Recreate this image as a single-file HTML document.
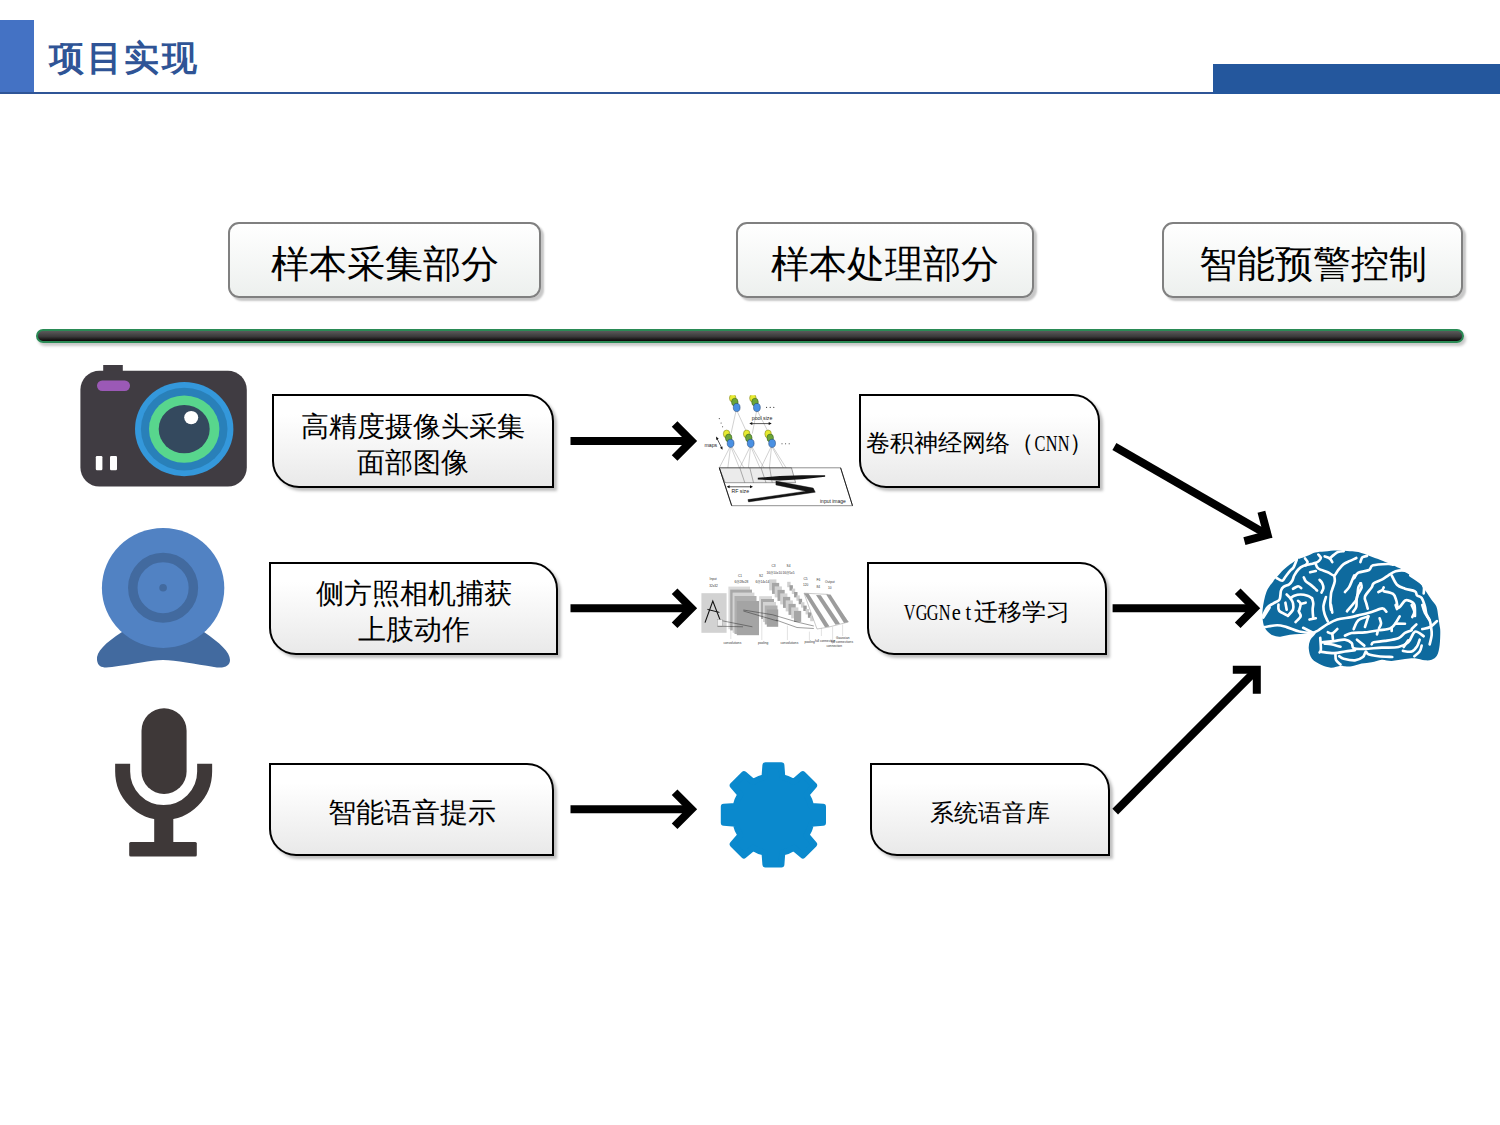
<!DOCTYPE html>
<html><head><meta charset="utf-8">
<style>
html,body{margin:0;padding:0;background:#fff;}
body{width:1500px;height:1125px;position:relative;overflow:hidden;font-family:"Liberation Serif",serif;}
.a{position:absolute;}
#lblock{left:0;top:20px;width:34px;height:74px;background:#4472C4;}
#hline{left:0;top:92px;width:1500px;height:2px;background:#2F5597;}
#rblock{left:1213px;top:64px;width:287px;height:30px;background:#24579D;}
#title{left:49px;top:34px;font-family:"Liberation Sans",sans-serif;font-weight:bold;font-size:35px;line-height:48px;color:#2F5496;letter-spacing:2.5px;white-space:nowrap;}
.tb{font-weight:300;box-sizing:border-box;border:2px solid #808080;border-radius:11px;background:linear-gradient(#ffffff,#edf0ee);box-shadow:3px 3px 2px rgba(0,0,0,0.22);display:flex;align-items:center;justify-content:center;font-size:38px;color:#000;white-space:nowrap;padding-top:8px;}
#bar{left:36px;top:329px;width:1428px;height:14px;box-sizing:border-box;border:2px solid #2A8A55;border-radius:7px;background:linear-gradient(#5a5a5a,#3a3a3a 55%,#0a0606);box-shadow:2px 3px 3px rgba(0,0,0,0.22);}
.rb{font-weight:300;box-sizing:border-box;border:2px solid #000;border-radius:0 27px 0 27px;background:linear-gradient(#ffffff,#ffffff 20%,#e9e9e9);box-shadow:3px 3px 3px rgba(0,0,0,0.25);display:flex;align-items:center;justify-content:center;text-align:center;color:#000;white-space:nowrap;}
.f28{font-size:28px;line-height:36px;padding-top:7px;}
.h{display:inline-block;width:11.75px;text-align:center;}
.h i{display:inline-block;font-style:normal;font-size:24px;transform:scaleX(.85);margin:0 -8px;}
.h i.u{transform:scaleX(.68);}
.f23{font-size:23.5px;line-height:30px;padding-top:7px;}
</style></head>
<body>
<svg class="a" style="left:0;top:0" width="1500" height="1125" viewBox="0 0 1500 1125">
<!-- cnn --><g><clipPath id="cnnclip"><rect x="700" y="395.3" width="160" height="115"/></clipPath><g clip-path="url(#cnnclip)"><line x1="736" y1="411" x2="731" y2="433.6" stroke="#8a8a8a" stroke-width="0.4"/><line x1="737" y1="411" x2="745.7" y2="430" stroke="#8a8a8a" stroke-width="0.4"/><line x1="756.6" y1="411" x2="752.3" y2="433.6" stroke="#8a8a8a" stroke-width="0.4"/><line x1="757.5" y1="411" x2="767.2" y2="430" stroke="#8a8a8a" stroke-width="0.4"/><line x1="730" y1="447" x2="719.3" y2="467.8" stroke="#8a8a8a" stroke-width="0.4"/><line x1="730.5" y1="447" x2="726" y2="482" stroke="#8a8a8a" stroke-width="0.4"/><line x1="731" y1="447" x2="745" y2="482" stroke="#8a8a8a" stroke-width="0.4"/><line x1="732" y1="447" x2="752" y2="482" stroke="#8a8a8a" stroke-width="0.4"/><line x1="750" y1="447" x2="739.8" y2="467.8" stroke="#8a8a8a" stroke-width="0.4"/><line x1="750.5" y1="447" x2="747" y2="482" stroke="#8a8a8a" stroke-width="0.4"/><line x1="751" y1="447" x2="766" y2="482" stroke="#8a8a8a" stroke-width="0.4"/><line x1="752" y1="447" x2="772" y2="482" stroke="#8a8a8a" stroke-width="0.4"/><line x1="771" y1="447" x2="761" y2="467.8" stroke="#8a8a8a" stroke-width="0.4"/><line x1="771.5" y1="447" x2="768" y2="482" stroke="#8a8a8a" stroke-width="0.4"/><line x1="772" y1="447" x2="791" y2="482" stroke="#8a8a8a" stroke-width="0.4"/><line x1="773" y1="447" x2="795" y2="482" stroke="#8a8a8a" stroke-width="0.4"/><ellipse cx="732.7" cy="398.1" rx="3.3" ry="3.9" fill="#E6EA30" stroke="#6a6a10" stroke-width="0.45"/><ellipse cx="734.8" cy="402.1" rx="3.3" ry="3.9" fill="#6BA53A" stroke="#2a4a10" stroke-width="0.45"/><ellipse cx="736.7" cy="407.5" rx="3.4" ry="4.1" fill="#4A90E2" stroke="#1a3a6a" stroke-width="0.5"/><ellipse cx="752.9" cy="398.1" rx="3.3" ry="3.9" fill="#E6EA30" stroke="#6a6a10" stroke-width="0.45"/><ellipse cx="755.0" cy="402.1" rx="3.3" ry="3.9" fill="#6BA53A" stroke="#2a4a10" stroke-width="0.45"/><ellipse cx="756.9" cy="407.5" rx="3.4" ry="4.1" fill="#4A90E2" stroke="#1a3a6a" stroke-width="0.5"/><ellipse cx="726.6" cy="433.9" rx="3.3" ry="3.9" fill="#E6EA30" stroke="#6a6a10" stroke-width="0.45"/><ellipse cx="728.7" cy="437.9" rx="3.3" ry="3.9" fill="#6BA53A" stroke="#2a4a10" stroke-width="0.45"/><ellipse cx="730.6" cy="443.3" rx="3.4" ry="4.1" fill="#4A90E2" stroke="#1a3a6a" stroke-width="0.5"/><ellipse cx="746.7" cy="433.9" rx="3.3" ry="3.9" fill="#E6EA30" stroke="#6a6a10" stroke-width="0.45"/><ellipse cx="748.8" cy="437.9" rx="3.3" ry="3.9" fill="#6BA53A" stroke="#2a4a10" stroke-width="0.45"/><ellipse cx="750.7" cy="443.3" rx="3.4" ry="4.1" fill="#4A90E2" stroke="#1a3a6a" stroke-width="0.5"/><ellipse cx="768.1" cy="433.9" rx="3.3" ry="3.9" fill="#E6EA30" stroke="#6a6a10" stroke-width="0.45"/><ellipse cx="770.2" cy="437.9" rx="3.3" ry="3.9" fill="#6BA53A" stroke="#2a4a10" stroke-width="0.45"/><ellipse cx="772.1" cy="443.3" rx="3.4" ry="4.1" fill="#4A90E2" stroke="#1a3a6a" stroke-width="0.5"/></g><polygon points="719.3,467.8 791.5,467.8 795.6,482.7 725.2,482.7" fill="#ebebeb" stroke="#444" stroke-width="0.5"/><line x1="739.8" y1="467.8" x2="744.8" y2="482.7" stroke="#555" stroke-width="0.45"/><line x1="749.8" y1="467.8" x2="753.5" y2="482.7" stroke="#555" stroke-width="0.45"/><line x1="761" y1="467.8" x2="766" y2="482.7" stroke="#555" stroke-width="0.45"/><line x1="769.7" y1="467.8" x2="772.2" y2="482.7" stroke="#555" stroke-width="0.45"/><polygon points="757.8,477.7 779.6,476.1 802,475.2 825.1,475.2 825.1,476.7 802,479.3 779.6,480.4 757.8,479.6" fill="#141414"/><polygon points="775.9,481.1 813.2,488.1 815.3,492.2 748.5,501.9 747.9,499.6 805.8,491.2 775.9,484.9" fill="#141414" stroke="#141414" stroke-width="0.4" stroke-linejoin="round"/><polygon points="719.3,467.8 840.6,467.8 852.5,505.7 731.7,505.7" fill="none" stroke="#333" stroke-width="0.55"/><line x1="719.3" y1="467.8" x2="731.7" y2="505.7" stroke="#111" stroke-width="0.9"/><line x1="840.6" y1="467.8" x2="852.5" y2="505.7" stroke="#111" stroke-width="0.9"/><text x="751.8" y="420" style="font-family:'Liberation Sans',sans-serif;font-size:5.2px" fill="#222" >pool size</text><text x="704.5" y="446.5" style="font-family:'Liberation Sans',sans-serif;font-size:5.2px" fill="#222" >maps</text><text x="731.5" y="493.3" style="font-family:'Liberation Sans',sans-serif;font-size:5.2px" fill="#222" >RF size</text><text x="820" y="502.6" style="font-family:'Liberation Sans',sans-serif;font-size:5px" fill="#222" >input image</text><line x1="751" y1="423.6" x2="770" y2="423.6" stroke="#111" stroke-width="0.7"/><path d="M749.3,423.6 l3,-1.5 v3z M771.7,423.6 l-3,-1.5 v3z" fill="#111"/><line x1="717" y1="438.5" x2="721.8" y2="448" stroke="#111" stroke-width="0.7"/><path d="M716.1,436.6 l0.2,3.4 l2.4,-1.3z M722.6,449.8 l-0.2,-3.4 l-2.4,1.3z" fill="#111"/><line x1="728" y1="486.8" x2="751.5" y2="486.8" stroke="#111" stroke-width="0.7"/><path d="M726.6,486.8 l3,-1.5 v3z M753,486.8 l-3,-1.5 v3z" fill="#111"/><circle cx="766.6" cy="407.4" r="0.55" fill="#333"/><circle cx="770.2" cy="407.4" r="0.55" fill="#333"/><circle cx="773.8" cy="407.4" r="0.55" fill="#333"/><circle cx="782" cy="443.7" r="0.55" fill="#333"/><circle cx="785.6" cy="443.7" r="0.55" fill="#333"/><circle cx="789.2" cy="443.7" r="0.55" fill="#333"/><circle cx="719.3" cy="418.6" r="0.55" fill="#333"/><circle cx="721.1" cy="423" r="0.55" fill="#333"/><circle cx="722.6" cy="426.7" r="0.55" fill="#333"/></g>
<!-- vgg --><g><rect x="701.4" y="593.2" width="25.2" height="39.6" fill="#d2d2d2" stroke="none" stroke-width="0"/><rect x="728.4" y="586.6" width="21.6" height="42.6" fill="#dadada" stroke="none" stroke-width="0"/><rect x="730.2" y="589.6" width="21.8" height="40.8" fill="#a8a8a8" stroke="none" stroke-width="0"/><rect x="732.6" y="592.6" width="21.8" height="40.2" fill="#d4d4d4" stroke="none" stroke-width="0"/><rect x="734.5" y="596.0" width="22.0" height="38.0" fill="#b0b0b0" stroke="none" stroke-width="0"/><rect x="736.8" y="601.0" width="22.2" height="34.2" fill="#a4a4a4" stroke="none" stroke-width="0"/><rect x="759.2" y="596.2" width="12.8" height="20.8" fill="#d8d8d8" stroke="none" stroke-width="0"/><rect x="761.0" y="599.0" width="13.0" height="20.0" fill="#a8a8a8" stroke="none" stroke-width="0"/><rect x="763.0" y="602.0" width="13.0" height="20.0" fill="#d4d4d4" stroke="none" stroke-width="0"/><rect x="764.8" y="605.5" width="12.7" height="19.0" fill="#b0b0b0" stroke="none" stroke-width="0"/><rect x="766.8" y="609.4" width="11.4" height="17.4" fill="#a2a2a2" stroke="none" stroke-width="0"/><rect x="769.2" y="579.4" width="7.2" height="11.0" fill="#d2d2d2" stroke="none" stroke-width="0"/><rect x="772.0" y="582.9" width="7.2" height="11.0" fill="#a6a6a6" stroke="none" stroke-width="0"/><rect x="774.7" y="586.4" width="7.2" height="11.0" fill="#d2d2d2" stroke="none" stroke-width="0"/><rect x="777.5" y="589.9" width="7.2" height="11.0" fill="#a6a6a6" stroke="none" stroke-width="0"/><rect x="780.2" y="593.4" width="7.2" height="11.0" fill="#d2d2d2" stroke="none" stroke-width="0"/><rect x="783.0" y="596.9" width="7.2" height="11.0" fill="#a6a6a6" stroke="none" stroke-width="0"/><rect x="785.7" y="600.4" width="7.2" height="11.0" fill="#d2d2d2" stroke="none" stroke-width="0"/><rect x="788.5" y="603.9" width="7.2" height="11.0" fill="#a6a6a6" stroke="none" stroke-width="0"/><rect x="791.2" y="607.4" width="7.2" height="11.0" fill="#d2d2d2" stroke="none" stroke-width="0"/><rect x="794.0" y="610.9" width="7.2" height="11.0" fill="#a6a6a6" stroke="none" stroke-width="0"/><rect x="787.2" y="581.8" width="3.4" height="5.4" fill="#d0d0d0" stroke="none" stroke-width="0"/><rect x="789.5" y="585.2" width="3.4" height="5.4" fill="#9e9e9e" stroke="none" stroke-width="0"/><rect x="791.8" y="588.6" width="3.4" height="5.4" fill="#d0d0d0" stroke="none" stroke-width="0"/><rect x="794.1" y="592.0" width="3.4" height="5.4" fill="#9e9e9e" stroke="none" stroke-width="0"/><rect x="796.4" y="595.4" width="3.4" height="5.4" fill="#d0d0d0" stroke="none" stroke-width="0"/><rect x="798.7" y="598.8" width="3.4" height="5.4" fill="#9e9e9e" stroke="none" stroke-width="0"/><rect x="801.0" y="602.2" width="3.4" height="5.4" fill="#d0d0d0" stroke="none" stroke-width="0"/><rect x="803.3" y="605.6" width="3.4" height="5.4" fill="#9e9e9e" stroke="none" stroke-width="0"/><rect x="805.6" y="609.0" width="3.4" height="5.4" fill="#d0d0d0" stroke="none" stroke-width="0"/><rect x="807.9" y="612.4" width="3.4" height="5.4" fill="#9e9e9e" stroke="none" stroke-width="0"/><rect x="810.2" y="615.8" width="3.4" height="5.4" fill="#d0d0d0" stroke="none" stroke-width="0"/><polygon points="804,593.2 828,594.4 848.4,622 829,627 817,629" fill="#fff" stroke="#777" stroke-width="0.4"/><polygon points="804,593.2 808.5,593.4 829.5,626.5 825,627.3" fill="#9c9c9c"/><polygon points="816,595 820.8,595.2 840,623.8 835.5,624.8" fill="#9c9c9c"/><polygon points="826.2,594.4 830.5,594.4 848.4,622 844,623" fill="#9c9c9c"/><polyline points="705,622.6 712.8,601 721.8,624.4" fill="none" stroke="#111" stroke-width="1.1"/><line x1="707.4" y1="609.4" x2="719.4" y2="612.4" stroke="#111" stroke-width="1"/><rect x="717.6" y="619.6" width="4.8" height="6.6" fill="#f0f0f0" stroke="#888" stroke-width="0.3"/><line x1="722.4" y1="620.8" x2="752.4" y2="626.8" stroke="#222" stroke-width="0.45"/><line x1="717.6" y1="626.2" x2="743" y2="626.8" stroke="#222" stroke-width="0.45"/><line x1="743.4" y1="610" x2="772.8" y2="614.8" stroke="#222" stroke-width="0.45"/><line x1="743.4" y1="611" x2="777.5" y2="621" stroke="#222" stroke-width="0.45"/><line x1="772.8" y1="614.8" x2="797" y2="622" stroke="#222" stroke-width="0.45"/><line x1="776" y1="620" x2="797" y2="627.5" stroke="#222" stroke-width="0.45"/><line x1="797" y1="622" x2="813.8" y2="626" stroke="#222" stroke-width="0.45"/><line x1="797" y1="627.5" x2="813.8" y2="628.5" stroke="#222" stroke-width="0.45"/><text x="709.5" y="580.2" style="font-family:'Liberation Sans',sans-serif;font-size:3.2px" fill="#333" >Input</text><text x="709.2" y="586.8" style="font-family:'Liberation Sans',sans-serif;font-size:3.2px" fill="#333" >32x32</text><text x="738" y="576.6" style="font-family:'Liberation Sans',sans-serif;font-size:3.2px" fill="#333" >C1</text><text x="734.5" y="583.2" style="font-family:'Liberation Sans',sans-serif;font-size:3.2px" fill="#333" >6@28x28</text><text x="759" y="576.6" style="font-family:'Liberation Sans',sans-serif;font-size:3.2px" fill="#333" >S2</text><text x="755.5" y="583.2" style="font-family:'Liberation Sans',sans-serif;font-size:3.2px" fill="#333" >6@14x14</text><text x="771.5" y="567" style="font-family:'Liberation Sans',sans-serif;font-size:3.2px" fill="#333" >C3</text><text x="766.5" y="573.6" style="font-family:'Liberation Sans',sans-serif;font-size:3.2px" fill="#333" >16@10x10</text><text x="786.5" y="567" style="font-family:'Liberation Sans',sans-serif;font-size:3.2px" fill="#333" >S4</text><text x="782.5" y="573.6" style="font-family:'Liberation Sans',sans-serif;font-size:3.2px" fill="#333" >16@5x5</text><text x="803.5" y="579.6" style="font-family:'Liberation Sans',sans-serif;font-size:3.2px" fill="#333" >C5</text><text x="803" y="585.6" style="font-family:'Liberation Sans',sans-serif;font-size:3.2px" fill="#333" >120</text><text x="816.5" y="581.4" style="font-family:'Liberation Sans',sans-serif;font-size:3.2px" fill="#333" >F6</text><text x="816.5" y="588" style="font-family:'Liberation Sans',sans-serif;font-size:3.2px" fill="#333" >84</text><text x="825" y="582.6" style="font-family:'Liberation Sans',sans-serif;font-size:3.2px" fill="#333" >Output</text><text x="828" y="588.6" style="font-family:'Liberation Sans',sans-serif;font-size:3.2px" fill="#333" >10</text><text x="723.5" y="644.4" style="font-family:'Liberation Sans',sans-serif;font-size:3.2px" fill="#333" >convolutions</text><text x="758" y="643.8" style="font-family:'Liberation Sans',sans-serif;font-size:3.2px" fill="#333" >pooling</text><text x="780.5" y="643.8" style="font-family:'Liberation Sans',sans-serif;font-size:3.2px" fill="#333" >convolutions</text><text x="804.5" y="643.2" style="font-family:'Liberation Sans',sans-serif;font-size:3.2px" fill="#333" >pooling</text><text x="815" y="642" style="font-family:'Liberation Sans',sans-serif;font-size:3.2px" fill="#333" >full connection</text><text x="836" y="639" style="font-family:'Liberation Sans',sans-serif;font-size:3.2px" fill="#333" >Gaussian</text><text x="831" y="642.6" style="font-family:'Liberation Sans',sans-serif;font-size:3.2px" fill="#333" >full connections</text><text x="826.5" y="646.8" style="font-family:'Liberation Sans',sans-serif;font-size:3.2px" fill="#333" >connection</text><line x1="730.8" y1="629.2" x2="730.8" y2="639" stroke="#aaa" stroke-width="0.35"/><line x1="761.8" y1="617" x2="761.8" y2="640" stroke="#aaa" stroke-width="0.35"/><line x1="787.4" y1="625.6" x2="787.4" y2="640" stroke="#aaa" stroke-width="0.35"/><line x1="809.4" y1="631.6" x2="809.4" y2="640" stroke="#aaa" stroke-width="0.35"/><line x1="821.4" y1="628" x2="821.4" y2="636" stroke="#aaa" stroke-width="0.35"/><line x1="832.6" y1="626.8" x2="832.6" y2="644" stroke="#aaa" stroke-width="0.35"/><line x1="842.6" y1="624.4" x2="842.6" y2="636" stroke="#aaa" stroke-width="0.35"/></g>
<!-- arrows -->
<line x1="570.5" y1="441.0" x2="689.5" y2="441.0" stroke="#000" stroke-width="8"/><polyline points="674.6,424.0 691.5,441.0 674.6,458.0" fill="none" stroke="#000" stroke-width="8" stroke-linejoin="miter" stroke-miterlimit="10"/><line x1="570.5" y1="608.3" x2="689.5" y2="608.3" stroke="#000" stroke-width="8"/><polyline points="674.6,591.3 691.5,608.3 674.6,625.3" fill="none" stroke="#000" stroke-width="8" stroke-linejoin="miter" stroke-miterlimit="10"/><line x1="570.5" y1="809.2" x2="689.5" y2="809.2" stroke="#000" stroke-width="8"/><polyline points="674.6,792.2 691.5,809.2 674.6,826.2" fill="none" stroke="#000" stroke-width="8" stroke-linejoin="miter" stroke-miterlimit="10"/><line x1="1114.4" y1="446.5" x2="1265.9" y2="533.9" stroke="#000" stroke-width="8"/><polyline points="1261.4,511.7 1267.6,534.9 1244.4,541.1" fill="none" stroke="#000" stroke-width="8" stroke-linejoin="miter" stroke-miterlimit="10"/><line x1="1112.6" y1="608.3" x2="1252.6" y2="608.3" stroke="#000" stroke-width="8"/><polyline points="1237.7,591.3 1254.6,608.3 1237.7,625.3" fill="none" stroke="#000" stroke-width="8" stroke-linejoin="miter" stroke-miterlimit="10"/><line x1="1115.2" y1="811.6" x2="1255.4" y2="671.1" stroke="#000" stroke-width="8"/><polyline points="1232.8,669.7 1256.8,669.7 1256.8,693.7" fill="none" stroke="#000" stroke-width="8" stroke-linejoin="miter" stroke-miterlimit="10"/>
<!-- camera -->
<rect x="103.2" y="365" width="19.6" height="10" fill="#403C42"/>
<rect x="80.4" y="370.8" width="166.4" height="115.8" rx="19" fill="#403C42"/>
<rect x="97" y="380.6" width="33" height="10.4" rx="5.2" fill="#9B59B6"/>
<ellipse cx="184.2" cy="429.1" rx="49.2" ry="47.1" fill="#3498DB"/>
<ellipse cx="184.2" cy="429.1" rx="43.3" ry="41.4" fill="#2980B9"/>
<ellipse cx="184.2" cy="429.1" rx="35.2" ry="33.7" fill="#58D68D"/>
<ellipse cx="184.2" cy="429.1" rx="25.5" ry="24.2" fill="#34495E"/>
<ellipse cx="191.2" cy="417.6" rx="7" ry="6.7" fill="#fff"/>
<rect x="95.8" y="456" width="6.6" height="14.2" rx="1.2" fill="#fff"/>
<rect x="110" y="456" width="7" height="14.2" rx="1.2" fill="#fff"/>
<!-- webcam -->
<path d="M122,632 C105,643 96,652 97,660 C98,668 104,668 112,667 C135,664 150,660 163,660 C176,660 195,664 214,667 C224,669 230,666 230,660 C230,652 220,643 204,632 Z" fill="#426A9F"/>
<ellipse cx="163.1" cy="587.9" rx="61.2" ry="60" fill="#5182C3"/>
<circle cx="163.1" cy="587.8" r="30.3" fill="none" stroke="#426A9F" stroke-width="9.5"/>
<circle cx="163.1" cy="587.8" r="3.8" fill="#426A9F"/>
<!-- mic -->
<rect x="141.5" y="708.2" width="45.1" height="85.7" rx="22.5" fill="#3E3838"/>
<path d="M122.65,763.8 L122.65,771.5 A41,41 0 0 0 204.65,771.5 L204.65,763.8" fill="none" stroke="#3E3838" stroke-width="15"/>
<rect x="154.2" y="810" width="19.1" height="34" fill="#3E3838"/>
<rect x="129.2" y="842" width="67.6" height="14.4" rx="1.5" fill="#3E3838"/>
<!-- gear -->
<path d="M764.50,777.08 L765.40,765.25 L781.40,765.25 L782.30,777.08 A38.8,38.8 0 0 1 793.81,781.85 L802.82,774.12 L814.13,785.43 L806.40,794.44 A38.8,38.8 0 0 1 811.17,805.95 L823.00,806.85 L823.00,822.85 L811.17,823.75 A38.8,38.8 0 0 1 806.40,835.26 L814.13,844.27 L802.82,855.58 L793.81,847.85 A38.8,38.8 0 0 1 782.30,852.62 L781.40,864.45 L765.40,864.45 L764.50,852.62 A38.8,38.8 0 0 1 752.99,847.85 L743.98,855.58 L732.67,844.27 L740.40,835.26 A38.8,38.8 0 0 1 735.63,823.75 L723.80,822.85 L723.80,806.85 L735.63,805.95 A38.8,38.8 0 0 1 740.40,794.44 L732.67,785.43 L743.98,774.12 L752.99,781.85 A38.8,38.8 0 0 1 764.50,777.08 Z" fill="#0A89CD" stroke="#0A89CD" stroke-width="6" stroke-linejoin="round"/>
</svg>
<div class="a" id="lblock"></div>
<div class="a" id="hline"></div>
<div class="a" id="rblock"></div>
<div class="a" id="title">项目实现</div>

<div class="a tb" style="left:228px;top:222px;width:313px;height:76px;">样本采集部分</div>
<div class="a tb" style="left:736px;top:222px;width:298px;height:76px;">样本处理部分</div>
<div class="a tb" style="left:1162px;top:222px;width:301px;height:76px;">智能预警控制</div>

<div class="a" id="bar"></div>

<div class="a rb f28" style="left:272px;top:394px;width:282px;height:94px;">高精度摄像头采集<br>面部图像</div>
<div class="a rb f28" style="left:269px;top:562px;width:289px;height:93px;">侧方照相机捕获<br>上肢动作</div>
<div class="a rb f28" style="left:269px;top:763px;width:285px;height:93px;">智能语音提示</div>

<div class="a rb f23" style="left:859px;top:394px;width:241px;height:94px;padding-top:3px;">卷积神经网络（<span class="h"><i class="u">C</i></span><span class="h"><i class="u">N</i></span><span class="h"><i class="u">N</i></span>）</div>
<div class="a rb f23" style="left:867px;top:562px;width:240px;height:93px;"><span class="h"><i class="u">V</i></span><span class="h"><i class="u">G</i></span><span class="h"><i class="u">G</i></span><span class="h"><i class="u">N</i></span><span class="h"><i>e</i></span><span class="h"><i>t</i></span>迁移学习</div>
<div class="a rb f23" style="left:870px;top:763px;width:240px;height:93px;">系统语音库</div>



<!--brain--><svg class="a" style="left:1255px;top:540px" width="190" height="135" viewBox="0 0 1500 1066"><path d="M60,550 C64,509 76,448 90,410 C104,372 132,344 145,325 C158,306 157,310 170,295 C183,280 207,252 225,235 C243,218 262,203 280,190 C298,177 317,162 330,155 C343,148 344,151 360,145 C376,139 406,128 425,120 C444,112 454,103 475,98 C496,93 521,92 550,90 C579,88 617,83 650,83 C683,83 722,86 750,88 C778,90 788,88 816,95 C844,102 888,120 921,132 C954,144 992,158 1016,168 C1040,178 1040,177 1068,190 C1096,203 1147,224 1184,247 C1221,270 1264,301 1290,326 C1316,351 1324,370 1342,395 C1360,420 1380,452 1395,474 C1410,496 1423,504 1432,526 C1441,548 1443,579 1447,605 C1451,631 1455,660 1458,680 C1461,700 1463,699 1463,724 C1463,749 1462,798 1458,829 C1454,860 1448,894 1437,913 C1426,932 1411,939 1395,945 C1379,951 1364,952 1342,950 C1320,948 1289,936 1263,934 C1237,932 1215,936 1184,940 C1153,944 1110,954 1079,955 C1048,956 1026,943 1000,945 C974,947 947,961 921,966 C895,971 868,971 842,976 C816,981 785,994 763,997 C741,1000 725,998 710,997 C695,996 693,991 675,993 C657,995 625,1009 600,1008 C575,1007 550,1000 525,988 C500,976 467,959 450,938 C433,917 428,887 425,863 C422,839 426,815 435,793 C444,771 482,742 480,733 C478,724 442,738 420,740 C398,742 374,742 350,743 C326,744 300,745 275,748 C250,751 222,762 200,763 C178,764 158,761 140,753 C122,745 102,729 90,713 C78,697 70,685 65,658 C60,631 56,591 60,550 Z" fill="#0E6A9E"/><g fill="none" stroke="#fff" stroke-width="21" stroke-linecap="round" stroke-linejoin="round"><path d="M170,300 C178,304 203,324 215,322 C227,320 229,304 240,290 C251,276 269,252 280,240 C291,228 297,229 305,215 C313,201 326,165 330,155"/><path d="M62,600 C68,589 81,552 95,535 C109,518 129,510 145,500 C161,490 181,485 190,475 C199,465 198,452 200,440 C202,428 201,412 205,400 C209,388 214,378 225,370 C236,362 258,358 270,350 C282,342 288,332 295,320 C302,308 302,294 310,280 C318,266 328,248 340,235 C352,222 363,212 380,205 C397,198 423,194 440,190 C457,186 469,184 480,180 C491,176 498,172 505,165 C512,158 521,148 520,140 C519,132 503,119 500,115"/><path d="M480,190 C483,196 484,214 500,225 C516,236 554,246 575,255 C596,264 612,282 625,280 C638,278 642,255 655,240 C668,225 684,202 700,190 C716,178 733,173 750,165 C767,157 792,146 800,142"/><path d="M625,280 C626,288 632,307 630,325 C628,343 615,373 610,390 C605,407 602,407 600,425 C598,443 595,479 595,500 C595,521 599,542 600,550"/><path d="M550,130 C557,132 580,138 590,145 C600,152 607,170 610,175"/><path d="M590,145 C596,140 614,123 625,115 C636,107 642,100 655,95 C668,90 692,89 700,88"/><path d="M395,145 C398,150 414,166 415,175 C416,184 402,196 400,200"/><path d="M435,255 L480,245"/><path d="M385,295 C388,300 392,316 400,325 C408,334 423,341 435,350 C447,359 461,372 470,380 C479,388 487,397 490,400"/><path d="M510,315 C513,319 525,329 530,340 C535,351 541,368 540,380 C539,392 528,409 525,415"/><path d="M300,385 C307,382 329,366 340,365 C351,364 361,378 365,380"/><path d="M250,430 C255,435 272,448 280,460 C288,472 297,485 300,500 C303,515 307,534 300,550 C293,566 267,590 260,598"/><path d="M280,460 C285,457 297,445 310,440 C323,435 342,430 360,430 C378,430 400,435 415,440 C430,445 444,457 450,460"/><path d="M450,460 C452,467 459,485 460,500 C461,515 455,530 455,550 C455,570 459,607 460,618"/><path d="M340,480 C343,484 358,493 360,505 C362,517 352,540 350,550 C348,560 343,554 345,563 C347,572 364,589 360,603 C356,617 327,640 320,648"/><path d="M360,505 L400,495"/><path d="M560,450 C557,462 542,502 540,525 C538,548 544,568 550,588 C556,608 571,634 575,643"/><path d="M185,510 C186,518 178,543 190,558 C202,573 248,591 260,598"/><path d="M240,495 L250,550"/><path d="M75,688 C92,686 146,673 175,673 C204,673 221,680 250,688 C279,696 317,716 350,723 C383,730 425,735 450,733 C475,731 479,725 500,713 C521,701 550,677 575,663 C600,649 621,637 650,628 C679,619 722,616 750,611 C778,606 788,602 816,595 C844,588 890,577 921,568 C952,559 986,540 1005,540 C1024,540 1032,562 1037,566"/><path d="M380,693 L450,728"/><path d="M115,533 L65,613"/><path d="M430,628 L480,618"/><path d="M600,513 L610,573"/><path d="M515,773 C516,788 521,844 520,863 C519,882 512,884 510,888"/><path d="M530,808 C546,806 595,802 625,798 C655,794 687,784 710,787 C733,790 752,802 763,813 C774,824 762,847 779,855 C796,863 831,861 868,860 C905,859 956,852 1000,850 C1044,848 1097,852 1132,845 C1167,838 1188,828 1210,808 C1232,788 1243,732 1263,724 C1283,716 1320,754 1332,760"/><path d="M575,728 C581,730 598,742 610,738 C622,734 643,709 650,703"/><path d="M610,738 L615,783"/><path d="M550,818 C558,819 579,819 600,823 C621,827 662,840 675,843"/><path d="M525,883 C542,885 594,894 625,893 C656,892 683,884 710,880 C737,876 776,872 789,870"/><path d="M635,903 C636,910 633,935 640,948 C647,961 669,977 675,983"/><path d="M665,918 C671,921 679,933 700,938 C721,943 764,952 789,950 C814,948 838,935 852,924 C866,913 867,886 874,882 C881,878 878,897 895,903 C912,909 942,914 974,918 C1006,922 1066,923 1084,924"/><path d="M710,755 C719,752 737,738 763,734 C789,730 833,732 868,729 C903,726 939,719 974,713 C1009,707 1051,710 1079,692 C1107,674 1132,618 1142,603"/><path d="M1079,718 L1079,692"/><path d="M1184,661 L1110,660"/><path d="M963,745 L968,725"/><path d="M1237,703 L1274,666"/><path d="M921,824 C924,821 920,812 937,808 C954,804 994,802 1026,797 C1058,792 1106,786 1132,776 C1158,766 1166,744 1184,734 C1202,724 1228,716 1237,713"/><path d="M1168,876 C1180,877 1218,887 1237,881 C1256,875 1268,856 1279,840 C1290,824 1296,796 1300,787"/><path d="M1258,918 C1265,912 1290,895 1300,881 C1310,867 1313,842 1316,834"/><path d="M1174,845 L1210,792"/><path d="M805,787 L863,834"/><path d="M779,703 C785,692 797,651 816,634 C835,617 882,608 895,603"/><path d="M868,687 L895,603"/><path d="M984,618 C986,625 996,647 995,660 C994,673 982,691 979,697"/><path d="M1237,513 C1240,522 1257,550 1258,566 C1259,582 1245,601 1242,608"/><path d="M1321,513 C1324,524 1332,556 1342,576 C1352,596 1371,616 1379,634 C1387,652 1387,668 1390,687 C1393,706 1397,727 1395,750 C1393,773 1382,812 1379,824"/><path d="M1321,703 C1332,700 1365,698 1384,687 C1403,676 1428,648 1437,640"/><path d="M1110,513 L1121,545"/><path d="M832,174 C835,168 839,145 848,137 C857,129 878,128 884,126"/><path d="M784,300 C789,293 797,268 816,258 C835,248 881,247 900,237 C919,227 906,208 932,200 C958,192 1027,190 1053,189 C1079,188 1084,194 1090,195"/><path d="M710,411 C715,405 732,390 742,374 C752,358 761,332 768,316 C775,300 781,285 784,279"/><path d="M726,563 C735,552 766,518 779,500 C792,482 799,479 805,458 C811,437 811,393 816,374 C821,355 834,347 837,342"/><path d="M890,542 C888,535 883,516 879,500 C875,484 861,468 868,447 C875,426 910,392 921,374 C932,356 923,352 937,342 C951,332 986,322 1005,311 C1024,300 1036,290 1053,279 C1070,268 1088,253 1110,247 C1132,241 1163,238 1184,242 C1205,246 1218,263 1237,274 C1256,285 1290,304 1300,310"/><path d="M1079,279 C1086,291 1104,336 1121,353 C1138,370 1160,375 1184,384 C1208,393 1247,396 1263,405 C1279,414 1270,428 1279,437 C1288,446 1306,443 1316,458 C1326,473 1336,505 1342,526 C1348,547 1347,566 1353,584 C1359,602 1375,624 1379,632"/><path d="M1226,279 C1243,291 1308,329 1326,353 C1344,377 1331,410 1332,421"/><path d="M974,411 C979,408 998,401 1005,395 C1012,389 1014,378 1016,374"/><path d="M1016,405 C1028,408 1073,414 1090,426 C1107,438 1109,460 1116,479 C1123,498 1121,537 1132,537 C1143,537 1170,489 1184,479 C1198,469 1204,474 1216,479 C1228,484 1250,491 1258,511 C1266,531 1262,585 1263,600"/><path d="M832,342 C834,347 846,356 842,374 C838,392 812,422 805,447 C798,472 805,506 800,526 C795,546 778,561 774,568"/></g></svg><!--/brain-->
</body></html>
